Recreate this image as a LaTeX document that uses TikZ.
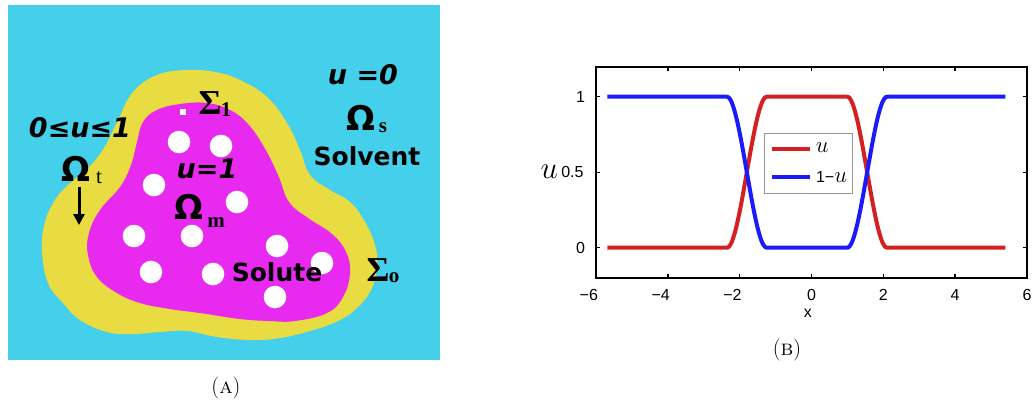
\documentclass[tikz,border=0pt]{standalone}
\usepackage{fontspec}
\newfontfamily\dvs{DejaVu Sans}
\newfontfamily\lser{Liberation Serif}
\newfontfamily\lsans{Liberation Sans}
\usetikzlibrary{arrows.meta}
\definecolor{cyanbg}{RGB}{68,207,234}
\definecolor{yel}{RGB}{233,219,66}
\definecolor{mag}{RGB}{232,42,240}
\definecolor{ured}{RGB}{212,32,32}
\definecolor{ublue}{RGB}{26,26,250}
\definecolor{legbd}{RGB}{150,150,150}
\begin{document}
\begin{tikzpicture}[x=1pt,y=-1pt,
  every node/.style={inner sep=0pt},
  bigit/.style={font=\dvs\bfseries\itshape\fontsize{27}{30}\selectfont},
  bigbf/.style={font=\dvs\bfseries\fontsize{25}{28}\selectfont},
  omega/.style={font=\dvs\bfseries\fontsize{34}{38}\selectfont},
  sigma/.style={font=\lser\bfseries\fontsize{35}{38}\selectfont},
  subs/.style={font=\lser\bfseries\fontsize{21}{24}\selectfont},
  dot/.style={fill=white},
  ticklab/.style={font=\lsans\fontsize{16}{18}\selectfont},
  captxt/.style={font=\fontsize{22}{24}\selectfont},
  declare function={cl(\t)=min(1,max(0,\t)); ss(\t)=3*cl(\t)^2-2*cl(\t)^3;
    uu(\x)=ss((\x+1.8)/1.1+0.5)*ss((1.55-\x)/1.1+0.5);}
]
\useasboundingbox (0,0) rectangle (1034,405);
% ---------------- panel A ----------------
\fill[cyanbg] (8,5) rectangle (440,360);
\fill[yel] plot[smooth cycle, tension=0.7] coordinates {
(42,250) (45,222) (55,200) (68,185) (88,168) (104,148) (118,120) (133,92)
(157,75) (187,70) (215,72) (240,80) (267,97) (287,123) (300,150) (310,175)
(330,190) (350,202) (365,222) (375,245) (377,265) (372,288) (358,307)
(338,321) (310,331) (280,338) (250,340) (217,337) (187,331) (160,332)
(133,334) (107,332) (80,320) (63,303) (48,283)};
\fill[mag] plot[smooth cycle, tension=0.7] coordinates {
(180,104) (157,110) (143,122) (137,142) (131,165) (120,187) (100,210)
(89,233) (88,255) (97,277) (117,293) (140,303) (170,309) (200,313)
(240,319) (270,321) (295,321) (327,313) (343,297) (350,273) (346,252)
(332,234) (308,218) (289,202) (278,175) (264,147) (248,124) (230,110) (207,103)};
\foreach \p in {(179,142),(221,146),(154,185),(237,202),(134,236),(192,236),
  (277,246),(151,272),(213,274),(322,263),(275,297)}
  \fill[dot] \p circle (11.3);
\fill[white] (180,109) rectangle (186,115);
% texts
\node[bigit] (us) at (363,75) {u =0};
\node[omega] (os) at (361,118) {Ω};
\node[subs] (oss) at (383,128) {s};
\node[bigbf] (solv) at (367,156) {Solvent};
\node[bigit] (ut) at (80,128) {0≤u≤1};
\node[omega] (ot) at (76,169) {Ω};
\node[subs,font=\lser\fontsize{21}{24}\selectfont] (ots) at (99,178) {t};
\coordinate (a1) at (79,187);
\coordinate (a2) at (79,225);
\draw[line width=3pt,-{Triangle[length=11pt,width=11pt]}] (a1) -- (a2);
\node[sigma] (s1) at (210,103) {Σ};
\node[subs] (s1s) at (226,110) {1};
\node[bigit] (um) at (207,169) {u=1};
\node[omega] (om) at (189,207) {Ω};
\node[subs] (oms) at (216,223) {m};
\node[bigbf] (solu) at (277,272) {Solute};
\node[sigma] (so) at (378,270) {Σ};
\node[subs] (sos) at (394,278) {o};
\node[captxt] (capA) at (226,388) {(\textsc{a})};
% ---------------- panel B ----------------
\begin{scope}[shift={(811.5,247.7)}, x=35.92pt, y=151pt]
  \draw[ured, line width=4pt, line join=round] plot[domain=-5.68:5.4, samples=231, smooth] (\x,{uu(\x)});
  \draw[ublue, line width=4pt, line join=round] plot[domain=-5.68:5.4, samples=231, smooth] (\x,{1-uu(\x)});
  \draw[line width=2pt] (-6,-0.2) rectangle (6,1.2);
  \foreach \t in {-6,-4,...,6} {
    \draw[line width=1.4pt] (\t,-0.2) -- (\t,-0.172);
    \draw[line width=1.4pt] (\t,1.2) -- (\t,1.172);
  }
  \foreach \t in {0,0.5,1} {
    \draw[line width=1.4pt] (-6,\t) -- (-5.88,\t);
    \draw[line width=1.4pt] (6,\t) -- (5.88,\t);
  }
  \node[ticklab] (xm6) at (-6.2,-0.313) {−6};
  \node[ticklab] (xm4) at (-4.2,-0.313) {−4};
  \node[ticklab] (xm2) at (-2.2,-0.313) {−2};
  \node[ticklab] (x0) at (0,-0.313) {0};
  \node[ticklab] (x2) at (2,-0.313) {2};
  \node[ticklab] (x4) at (4,-0.313) {4};
  \node[ticklab] (x6) at (6,-0.313) {6};
  \node[ticklab,anchor=east] (y0) at (-6.3,0) {0};
  \node[ticklab,anchor=east] (y05) at (-6.34,0.5) {0.5};
  \node[ticklab,anchor=east] (y1) at (-6.3,1) {1};
  \node[ticklab] (xl) at (-0.1,-0.432) {x};
  \node[font=\fontsize{20}{22}\selectfont, scale=1.5] (yl) at (-7.3,0.5) {$u$};
  % legend
  \draw[legbd, line width=0.6pt, fill=white] (-1.32,0.362) rectangle (1.13,0.76);
  \coordinate (l1a) at (-1.10,0.654); \coordinate (l1b) at (-0.04,0.654);
  \coordinate (l2a) at (-1.10,0.468); \coordinate (l2b) at (-0.04,0.468);
  \draw[ured, line width=4pt] (l1a) -- (l1b);
  \draw[ublue, line width=4pt] (l2a) -- (l2b);
  \node[font=\fontsize{20}{22}\selectfont, scale=1.1] (lu) at (0.3,0.66) {$u$};
  \node[anchor=west, font=\lsans\fontsize{16}{18}\selectfont] (l1u) at (0.12,0.468) {1−\scalebox{1.1}{\fontsize{20}{22}\selectfont$u$}};
\end{scope}
\node[captxt] (capB) at (787,350) {(\textsc{b})};
\end{tikzpicture}
\end{document}
